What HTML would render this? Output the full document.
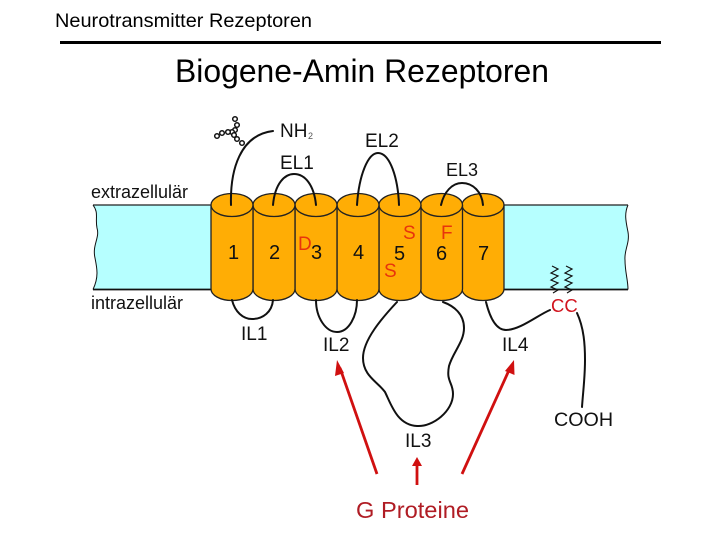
<!DOCTYPE html>
<html><head><meta charset="utf-8"><style>html,body{margin:0;padding:0;background:#fff}svg{display:block}text{font-family:"Liberation Sans",sans-serif}</style></head>
<body>
<svg xmlns="http://www.w3.org/2000/svg" width="720" height="540" viewBox="0 0 720 540">
<defs>
<g id="c">
<path d="M-21 0V84A21 11.5 0 0 0 21 84V0" fill="#ffad05" stroke="#222" stroke-width="1.3"/>
<ellipse cx="0" cy="0" rx="21" ry="11.5" fill="#ffad05" stroke="#222" stroke-width="1.3"/>
</g>
</defs>
<text x="55" y="27" font-size="19.500" textLength="257" lengthAdjust="spacingAndGlyphs" fill="#000">Neurotransmitter Rezeptoren</text>
<rect x="60" y="41" width="601" height="3" fill="#000"/>
<text x="175" y="82" font-size="32.500" textLength="374" lengthAdjust="spacingAndGlyphs" fill="#000">Biogene-Amin Rezeptoren</text>

<path d="M93 205H211V289.500H93C99 277 97 268 95 258C92 245 100 238 97 228C95 218 99 213 93 205Z" fill="#b6ffff"/>
<path d="M503 205H628C624 214 626 222 628 232C630 243 624 250 625 260C625 272 628 280 628 289.500H503Z" fill="#b6ffff"/>
<g fill="none" stroke="#111" stroke-width="1">
<path d="M93 205C99 213 95 218 97 228C100 238 92 245 95 258C97 268 99 277 93 289.500"/>
<path d="M628 205C624 214 626 222 628 232C630 243 624 250 625 260C625 272 628 280 628 289.500"/>
</g>
<path d="M93 205H211M503 205H628" stroke="#222" stroke-width="1.200"/>
<path d="M93 289.500H211M503 289.500H628" stroke="#111" stroke-width="1.800"/>

<use href="#c" x="483" y="205"/><use href="#c" x="441.500" y="205"/><use href="#c" x="400" y="205"/><use href="#c" x="358" y="205"/><use href="#c" x="316" y="205"/><use href="#c" x="274" y="205"/><use href="#c" x="232" y="205"/>

<g fill="none" stroke="#111" stroke-width="2" stroke-linecap="round">
<path d="M231 205C230 170 240 135 273 131"/>
<path d="M273 205C275 183 285 174 294 174C305 174 314 185 316 205"/>
<path d="M357 205C359 175 368 153 378 153C390 153 398 178 399 205"/>
<path d="M441 205C444 192 452 183 462 183C473 183 482 192 483 205"/>
<path d="M232 300C235 312 243 319 252 319C263 319 272 312 273 300"/>
<path d="M316 300C316 318 326 332 337 332C349 332 357 316 357 300"/>
<path d="M397 302C382 318 363 340 363 358C363 376 378 382 385 392C391 404 397 425 417 426C433 427 453 411 453 394C453 382 446 382 449 366C453 352 464 342 464 328C464 314 454 306 443 302"/>
<path d="M486 302C490 318 496 330 506 330C520 330 538 315 550 310"/>
<path d="M577 313C584 328 585 345 585 360C585 378 583 392 582 407"/>
</g>

<g fill="none" stroke="#111" stroke-width="1.200">
<path d="M552 266L558 269L551 273L558 276L551 280L558 283L551 287L558 290L553 293"/>
<path d="M566 266L572 269L565 273L572 276L565 280L572 283L565 287L572 290L567 293"/>
</g>

<g fill="#fff" stroke="#111" stroke-width="1.500">
<circle cx="235" cy="119" r="2.300"/><circle cx="237" cy="125" r="2.300"/><circle cx="235" cy="130" r="2.300"/><circle cx="232" cy="132" r="2.300"/><circle cx="228" cy="132" r="2.300"/><circle cx="222" cy="133" r="2.300"/><circle cx="217" cy="136" r="2.300"/><circle cx="234" cy="135" r="2.300"/><circle cx="237" cy="139" r="2.300"/><circle cx="242" cy="143" r="2.300"/>
</g>

<g font-size="19" fill="#111">
<text x="280" y="137">NH</text><text x="308" y="139" font-size="9" fill="#555">2</text>
<text x="280" y="169">EL1</text>
<text x="365" y="147">EL2</text>
<text x="446" y="176" font-size="18">EL3</text>
<text x="91" y="198" font-size="18">extrazellulär</text>
<text x="91" y="309" font-size="18">intrazellulär</text>
<text x="228" y="259" font-size="20">1</text>
<text x="269" y="259" font-size="20">2</text>
<text x="311" y="259" font-size="20">3</text>
<text x="353" y="259" font-size="20">4</text>
<text x="394" y="260" font-size="20">5</text>
<text x="436" y="260" font-size="20">6</text>
<text x="478" y="260" font-size="20">7</text>
<text x="241" y="340">IL1</text>
<text x="323" y="351">IL2</text>
<text x="405" y="447">IL3</text>
<text x="502" y="351">IL4</text>
<text x="554" y="426" font-size="19.700">COOH</text>
</g>
<g font-size="19" fill="#e8340c">
<text x="298" y="250">D</text>
<text x="403" y="239">S</text>
<text x="441" y="239">F</text>
<text x="384" y="277">S</text>
</g>
<text x="551" y="312" font-size="18.500" fill="#d2141e">CC</text>

<g stroke="#d01010" stroke-width="2.800" fill="#d01010">
<path d="M377 474L340 368" fill="none"/><path d="M337 360L344 373L335 376Z" stroke="none"/>
<path d="M417 485V464" fill="none"/><path d="M417 457L422 466H412Z" stroke="none"/>
<path d="M462 474L510 368" fill="none"/><path d="M514 360L514.500 375L505 371Z" stroke="none"/>
</g>
<text x="356" y="518" font-size="23" textLength="113" lengthAdjust="spacingAndGlyphs" fill="#b01c24">G Proteine</text>
</svg>
</body></html>
